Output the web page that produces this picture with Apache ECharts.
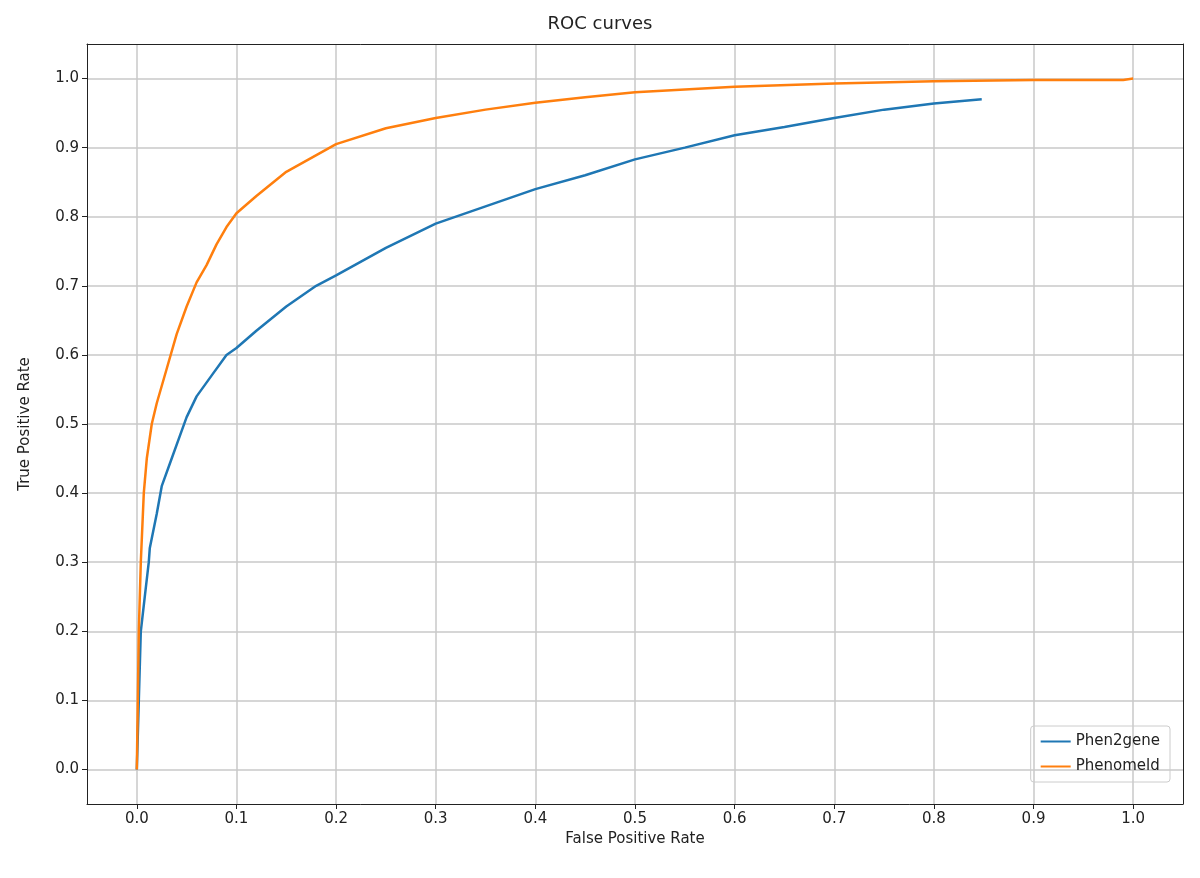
<!DOCTYPE html>
<html><head><meta charset="utf-8">
<script src="https://cdn.jsdelivr.net/npm/echarts@6/dist/echarts.min.js"></script>
<style>html,body{margin:0;background:#fff}#c{width:1200px;height:878px}</style>
</head><body><div id="c"></div>
<script>
var tickValues = [0, 0.1, 0.2, 0.3, 0.4, 0.5, 0.6, 0.7, 0.8, 0.9, 1.0];
var phen2gene = [[0,0],[0.002,0.1],[0.004,0.2],[0.008,0.25],[0.012,0.3],[0.013,0.32],[0.02,0.37],[0.025,0.41],[0.035,0.45],[0.045,0.49],[0.05,0.51],[0.06,0.54],[0.075,0.57],[0.09,0.6],[0.1,0.61],[0.12,0.635],[0.15,0.67],[0.18,0.7],[0.2,0.715],[0.25,0.755],[0.3,0.79],[0.35,0.815],[0.4,0.84],[0.45,0.86],[0.5,0.883],[0.55,0.9],[0.6,0.918],[0.65,0.93],[0.7,0.943],[0.75,0.955],[0.8,0.964],[0.848,0.97]];
var phenomeld = [[0,0],[0.002,0.2],[0.004,0.3],[0.007,0.4],[0.01,0.45],[0.015,0.5],[0.02,0.53],[0.03,0.58],[0.04,0.63],[0.05,0.67],[0.06,0.705],[0.07,0.73],[0.08,0.76],[0.09,0.785],[0.1,0.805],[0.12,0.83],[0.15,0.865],[0.2,0.905],[0.25,0.928],[0.3,0.943],[0.35,0.955],[0.4,0.965],[0.45,0.973],[0.5,0.98],[0.6,0.988],[0.7,0.993],[0.8,0.996],[0.9,0.998],[0.99,0.998],[1,1]];

var chart = echarts.init(document.getElementById('c'));
var txt = {color: '#222', fontFamily: 'DejaVu Sans', fontSize: 15};
function axis(name, gap) {
    return {
        type: 'value', min: -0.05, max: 1.05, name: name, nameLocation: 'middle', nameGap: gap,
        nameTextStyle: txt,
        axisLine: {show: true, onZero: false, lineStyle: {color: '#222'}},
        axisTick: {show: true, customValues: tickValues, length: 5, lineStyle: {color: '#222'}},
        axisLabel: Object.assign({customValues: tickValues, formatter: function (v) { return v.toFixed(1); }}, txt),
        splitLine: {show: true, lineStyle: {color: '#c8c8c8', width: 1.5}}
    };
}
// plain frame lines on the top and right
function frame(pos) {
    return {
        type: 'value', position: pos, min: -0.05, max: 1.05,
        axisLine: {show: true, onZero: false, lineStyle: {color: '#222'}},
        axisTick: {show: false}, axisLabel: {show: false}, splitLine: {show: false}
    };
}
chart.setOption({
    animation: false,
    title: {text: 'ROC curves', left: 'center', top: 10, textStyle: {fontFamily: 'DejaVu Sans', fontSize: 18, fontWeight: 'normal', color: '#222'}},
    grid: {left: 87, right: 17, top: 44, bottom: 74},
    xAxis: [axis('False Positive Rate', 28), frame('top')],
    yAxis: [axis('True Positive Rate', 54), frame('right')],
    legend: {
        right: 30, bottom: 96, orient: 'vertical', itemWidth: 30, itemHeight: 2, itemGap: 10,
        borderColor: '#ccc', borderWidth: 1, borderRadius: 3, padding: [8, 10],
        textStyle: txt, data: ['Phen2gene', 'Phenomeld'], icon: 'rect'
    },
    series: [
        {name: 'Phen2gene', type: 'line', data: phen2gene, showSymbol: false, lineStyle: {width: 2.5, color: '#1f77b4'}, itemStyle: {color: '#1f77b4'}},
        {name: 'Phenomeld', type: 'line', data: phenomeld, showSymbol: false, lineStyle: {width: 2.5, color: '#ff7f0e'}, itemStyle: {color: '#ff7f0e'}}
    ]
});
</script></body></html>
